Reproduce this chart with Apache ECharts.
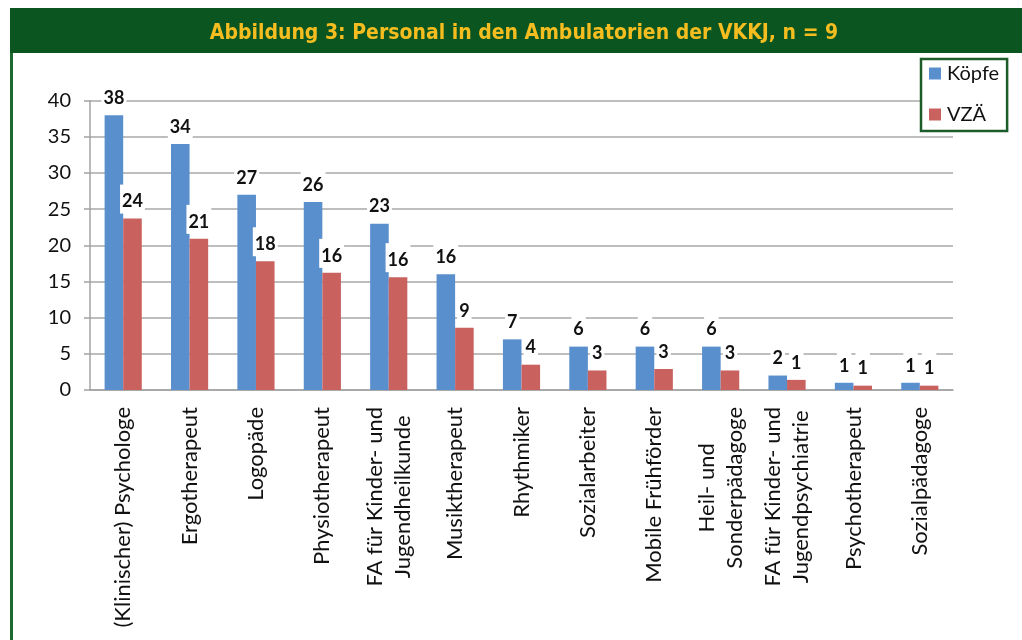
<!DOCTYPE html>
<html>
<head>
<meta charset="utf-8">
<script src="https://cdn.jsdelivr.net/npm/echarts@6/dist/echarts.min.js"></script>
<style>
  html, body { margin: 0; padding: 0; background: #fff; }
  #chart { width: 1022px; height: 640px; }
</style>
</head>
<body>
<div id="chart"></div>
<script>
const categories = [
  '(Klinischer) Psychologe',
  'Ergotherapeut',
  'Logopäde',
  'Physiotherapeut',
  'FA für Kinder- und\nJugendheilkunde',
  'Musiktherapeut',
  'Rhythmiker',
  'Sozialarbeiter',
  'Mobile Frühförder',
  'Heil- und\nSonderpädagoge',
  'FA für Kinder- und\nJugendpsychiatrie',
  'Psychotherapeut',
  'Sozialpädagoge'
]
const koepfe = [38, 34, 27, 26, 23, 16, 7, 6, 6, 6, 2, 1, 1]
const vzae = [23.7, 20.9, 17.8, 16.2, 15.6, 8.6, 3.5, 2.7, 2.9, 2.7, 1.4, 0.6, 0.6]
const seriesNames = ['Köpfe', 'VZÄ']
const yMin = 0
const yMax = 40
const yStep = 5

const blue = '#5a8fcd'
const red = '#c9625f'
const green = '#0b5620'
const font = 'Lato, "Open Sans", sans-serif'

const chart = echarts.init(document.getElementById('chart'))

const labelStyle = {
  show: true,
  position: 'top',
  distance: 5,
  fontFamily: font,
  fontWeight: 'bold',
  fontSize: 18,
  lineHeight: 22,
  color: '#111',
  backgroundColor: '#fff',
  padding: [6, 2, 1, 2],
  formatter: (p) => String(Math.round(p.value))
}

const option = {
  animation: false,
  title: {
    text: 'Abbildung 3: Personal in den Ambulatorien der VKKJ, n = 9',
    left: 519,
    top: 18,
    textAlign: 'center',
    textStyle: {
      color: '#f5bd1f',
      fontFamily: '"DejaVu Sans Condensed", sans-serif',
      fontWeight: 'bold',
      fontSize: 21
    }
  },
  graphic: [
    {
      type: 'rect',
      z: -10,
      shape: { x: 10, y: 8, width: 1012, height: 45 },
      style: { fill: green }
    },
    {
      type: 'rect',
      z: -10,
      shape: { x: 10, y: 53, width: 3, height: 587 },
      style: { fill: '#1d6a2f' }
    }
  ],
  legend: {
    data: seriesNames,
    orient: 'vertical',
    left: 921,
    top: 59,
    icon: 'rect',
    itemWidth: 12,
    itemHeight: 12,
    itemGap: 20,
    padding: [4, 8, 6, 8],
    backgroundColor: '#fff',
    borderColor: '#1c5c28',
    borderWidth: 2.5,
    textStyle: {
      fontFamily: font,
      fontSize: 20,
      lineHeight: 21,
      color: '#111',
      padding: [0, 0, 0, 1]
    }
  },
  grid: {
    left: 90,
    right: 69,
    top: 100.7,
    bottom: 250,
    containLabel: false
  },
  xAxis: {
    type: 'category',
    data: categories,
    axisLine: { lineStyle: { color: '#a3a3a3', width: 1.5 } },
    axisTick: { length: 6, lineStyle: { color: '#a3a3a3', width: 1.5 } },
    axisLabel: {
      interval: 0,
      rotate: 90,
      margin: 17,
      color: '#111',
      fontFamily: font,
      fontSize: 22,
      lineHeight: 28,
      formatter: (v) => v.split('\n').map((s) => '{c|' + s + '}').join('\n'),
      rich: {
        c: { align: 'center', fontFamily: font, fontSize: 22, lineHeight: 28, color: '#111' }
      }
    }
  },
  yAxis: {
    type: 'value',
    min: yMin,
    max: yMax,
    interval: yStep,
    axisLine: { show: true, lineStyle: { color: '#a3a3a3', width: 1.5 } },
    axisTick: { show: true, length: 6, lineStyle: { color: '#a3a3a3', width: 1.5 } },
    axisLabel: {
      margin: 19,
      color: '#111',
      fontFamily: font,
      fontSize: 20
    },
    splitLine: { lineStyle: { color: '#a8a8a8', width: 1.5 } }
  },
  series: [
    {
      name: seriesNames[0],
      type: 'bar',
      data: koepfe,
      barGap: '0%',
      barCategoryGap: '44%',
      itemStyle: { color: blue },
      label: labelStyle
    },
    {
      name: seriesNames[1],
      type: 'bar',
      data: vzae,
      itemStyle: { color: red },
      label: labelStyle
    }
  ]
}

chart.setOption(option)
</script>
</body>
</html>
